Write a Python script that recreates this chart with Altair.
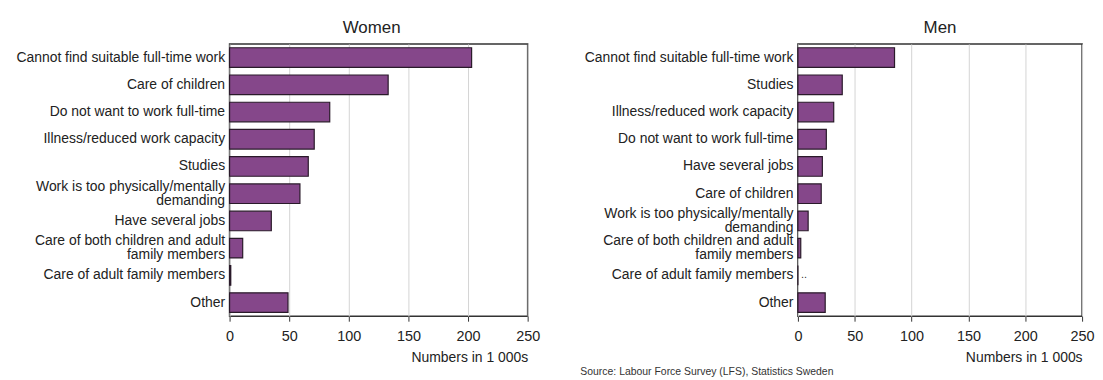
import altair as alt
import pandas as pd

women_cats = [
    "Cannot find suitable full-time work",
    "Care of children",
    "Do not want to work full-time",
    "Illness/reduced work capacity",
    "Studies",
    "Work is too physically/mentally\ndemanding",
    "Have several jobs",
    "Care of both children and adult\nfamily members",
    "Care of adult family members",
    "Other",
]
women_vals = [203, 133, 84, 71, 66, 59, 35, 11, 1, 49]

men_cats = [
    "Cannot find suitable full-time work",
    "Studies",
    "Illness/reduced work capacity",
    "Do not want to work full-time",
    "Have several jobs",
    "Care of children",
    "Work is too physically/mentally\ndemanding",
    "Care of both children and adult\nfamily members",
    "Care of adult family members",
    "Other",
]
men_vals = [85, 39, 31.5, 25, 21.5, 20.5, 9, 2.5, 0, 24]
men_notes = ["", "", "", "", "", "", "", "", "..", ""]

ticks = [0, 50, 100, 150, 200, 250]
x_title = "Numbers in 1 000s"
source = "Source: Labour Force Survey (LFS), Statistics Sweden"

FILL = "#85478a"
EDGE = "#2a1a2a"
H = 274


def panel(cats, vals, title, width, title_dx=0, notes=None, with_source=False):
    df = pd.DataFrame({"cat": cats, "value": vals, "note": notes or [""] * len(cats)})
    base = alt.Chart(df)
    y = alt.Y(
        "cat:N",
        sort=cats,
        scale=alt.Scale(paddingInner=0.28, paddingOuter=0.14),
        axis=alt.Axis(
            title=None,
            labelExpr="split(datum.label, '\\n')",
            labelOffset={
                "condition": {"test": "indexof(datum.value, '\\n') >= 0", "value": -7},
                "value": 0,
            },
            ticks=False,
            domain=False,
            labelPadding=5,
            labelFontSize=14,
            labelLineHeight=14,
            labelColor="#222222",
            labelLimit=400,
        ),
    )
    x = alt.X(
        "value:Q",
        scale=alt.Scale(domain=[0, 250], nice=False),
        axis=alt.Axis(
            values=ticks,
            title=x_title,
            titleAnchor="end",
            titleFontWeight="normal",
            titleFontSize=14,
            titleColor="#222222",
            titlePadding=8,
            labelFontSize=14.5,
            labelColor="#222222",
            tickColor="#333333",
            tickSize=5,
            labelPadding=8,
            domain=False,
            grid=True,
            gridColor="#d4d4d4",
            gridWidth=1,
            labelFlush=False,
        ),
    )
    bars = base.mark_bar(color=FILL, stroke=EDGE, strokeWidth=1.2).encode(x=x, y=y)
    layers = [bars]
    if notes:
        txt = base.mark_text(align="left", dx=3, fontSize=11, color="#333333").encode(
            x="value:Q", y=alt.Y("cat:N", sort=cats), text="note:N"
        )
        layers.append(txt)
    if with_source:
        sdf = pd.DataFrame({"t": [source]})
        src = alt.Chart(sdf).mark_text(align="left", baseline="middle", fontSize=10.5, color="#333333").encode(
            text="t:N", x=alt.value(-219), y=alt.value(H + 56)
        )
        layers.append(src)
    return alt.layer(*layers).properties(
        width=width,
        height=H,
        title=alt.TitleParams(title, fontSize=17, fontWeight="normal", color="#222222", offset=7, dx=title_dx),
    )


women = panel(women_cats, women_vals, "Women", 300, title_dx=-7)
men = panel(men_cats, men_vals, "Men", 286, notes=men_notes, with_source=True)

chart = (
    alt.hconcat(women, men, spacing=39)
    .properties(padding={"left": 7, "top": 9, "right": 0, "bottom": 0})
    .resolve_scale(y="independent")
    .configure(font="Liberation Sans")
    .configure_view(stroke="#333333", strokeWidth=1.5)
)

chart.save("out.html", embed_options={"renderer": "svg", "actions": False})
